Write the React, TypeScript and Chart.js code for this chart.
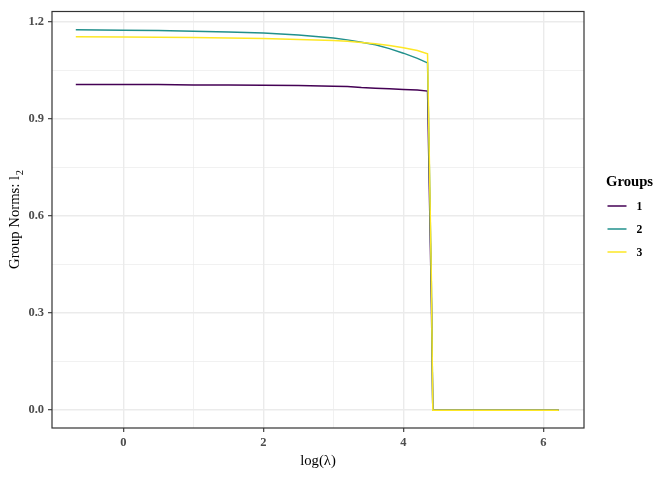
import React, { useEffect, useRef } from "react";
import { Chart, registerables } from "chart.js";

Chart.register(...registerables);

const lambda = [-0.68, 0, 0.5, 1, 1.5, 2, 2.5, 3, 3.2, 3.4, 3.6, 3.8, 4.0, 4.2, 4.345, 4.4, 4.42, 5.0, 6.22];
const group1 = [1.005, 1.005, 1.005, 1.004, 1.004, 1.003, 1.002, 1.0, 0.999, 0.996, 0.994, 0.992, 0.99, 0.988, 0.985, 0.33, 0, 0, 0];
const group2 = [1.174, 1.173, 1.172, 1.17, 1.167, 1.164, 1.158, 1.149, 1.143, 1.136, 1.128, 1.116, 1.102, 1.086, 1.072, 0.38, 0, 0, 0];
const group3 = [1.153, 1.152, 1.151, 1.15, 1.149, 1.147, 1.144, 1.141, 1.139, 1.135, 1.131, 1.126, 1.119, 1.11, 1.1, 0.4, 0, 0, 0];

const groupNames = ["1", "2", "3"];
const groupColors = ["#440154", "#21908C", "#FDE725"];

const xTicks = [0, 1, 2, 3, 4, 5, 6];
const xLabelTicks = [0, 2, 4, 6];
const yTicks = [0, 0.15, 0.3, 0.45, 0.6, 0.75, 0.9, 1.05, 1.2];
const yLabelTicks = [0, 0.3, 0.6, 0.9, 1.2];

const xTitle = "log(λ)";
const yTitleMain = "Group Norms: l";
const yTitleSub = "2";
const legendTitle = "Groups";

const SERIF = "'Liberation Serif', 'Times New Roman', serif";

const isIn = (arr: number[], v: number) => arr.some((a) => Math.abs(a - v) < 1e-6);

export default function App() {
  const ref = useRef<HTMLCanvasElement | null>(null);

  useEffect(() => {
    document.body.style.margin = "0";
    const canvas = ref.current;
    if (!canvas) return;

    const series = [group1, group2, group3];

    const decor = {
      id: "decor",
      afterDraw(chart: any) {
        const ctx = chart.ctx as CanvasRenderingContext2D;
        const a = chart.chartArea;
        ctx.save();
        // panel border
        ctx.strokeStyle = "#333333";
        ctx.lineWidth = 1.2;
        ctx.strokeRect(a.left, a.top, a.right - a.left, a.bottom - a.top);

        ctx.fillStyle = "#000000";
        // x title
        ctx.font = `14.7px ${SERIF}`;
        ctx.textAlign = "center";
        ctx.textBaseline = "middle";
        ctx.fillText(xTitle, (a.left + a.right) / 2, 461.5);

        // y title (rotated) with subscript
        ctx.save();
        ctx.translate(14, (a.top + a.bottom) / 2);
        ctx.rotate(-Math.PI / 2);
        ctx.font = `14.7px ${SERIF}`;
        const wMain = ctx.measureText(yTitleMain).width;
        ctx.font = `10.5px ${SERIF}`;
        const wSub = ctx.measureText(yTitleSub).width;
        const start = -(wMain + wSub) / 2;
        ctx.textAlign = "left";
        ctx.textBaseline = "alphabetic";
        ctx.font = `14.7px ${SERIF}`;
        ctx.fillText(yTitleMain, start, 5);
        ctx.font = `10.5px ${SERIF}`;
        ctx.fillText(yTitleSub, start + wMain + 0.5, 8.5);
        ctx.restore();

        // legend
        ctx.textAlign = "left";
        ctx.textBaseline = "middle";
        ctx.font = `bold 14.7px ${SERIF}`;
        ctx.fillText(legendTitle, 606, 182);
        const ys = [206, 229, 252];
        groupNames.forEach((n, i) => {
          ctx.strokeStyle = groupColors[i];
          ctx.lineWidth = 1.5;
          ctx.beginPath();
          ctx.moveTo(607.5, ys[i]);
          ctx.lineTo(626.5, ys[i]);
          ctx.stroke();
          ctx.font = `bold 11.7px ${SERIF}`;
          ctx.fillStyle = "#000000";
          ctx.fillText(n, 636.5, ys[i] + 0.5);
        });
        ctx.restore();
      },
    };

    const chart = new Chart(canvas, {
      type: "line",
      data: {
        datasets: series.map((s, i) => ({
          label: groupNames[i],
          data: lambda.map((x, j) => ({ x, y: s[j] })),
          borderColor: groupColors[i],
          backgroundColor: groupColors[i],
          borderWidth: 1.5,
          pointRadius: 0,
          tension: 0,
          fill: false,
          order: 3 - i,
        })),
      },
      options: {
        responsive: false,
        animation: false,
        devicePixelRatio: 1,
        layout: { padding: { top: 7, right: 88, left: 0, bottom: 0 } },
        plugins: {
          legend: { display: false },
          tooltip: { enabled: false },
          title: { display: false },
        },
        scales: {
          x: {
            type: "linear",
            min: -1.02,
            max: 6.58,
            border: { display: false },
            afterBuildTicks: (scale: any) => {
              scale.ticks = xTicks.map((v) => ({ value: v }));
            },
            afterFit: (scale: any) => {
              scale.height = 52;
            },
            grid: {
              color: "#EBEBEB",
              lineWidth: (c: any) => (isIn(xLabelTicks, c.tick.value) ? 1.4 : 0.7),
              tickColor: (c: any) => (isIn(xLabelTicks, c.tick.value) ? "#333333" : "rgba(0,0,0,0)"),
              tickWidth: 1.1,
              tickLength: 4,
              drawTicks: true,
            },
            ticks: {
              autoSkip: false,
              maxRotation: 0,
              minRotation: 0,
              padding: 3,
              color: "#4D4D4D",
              font: { family: SERIF, size: 12.5, weight: "bold" },
              callback: (v: any) => (isIn(xLabelTicks, Number(v)) ? String(Number(v)) : ""),
            },
          },
          y: {
            type: "linear",
            min: -0.055,
            max: 1.2306,
            border: { display: false },
            afterBuildTicks: (scale: any) => {
              scale.ticks = yTicks.map((v) => ({ value: v }));
            },
            afterFit: (scale: any) => {
              scale.width = 52;
            },
            grid: {
              color: "#EBEBEB",
              lineWidth: (c: any) => (isIn(yLabelTicks, c.tick.value) ? 1.4 : 0.7),
              tickColor: (c: any) => (isIn(yLabelTicks, c.tick.value) ? "#333333" : "rgba(0,0,0,0)"),
              tickWidth: 1.1,
              tickLength: 4,
              drawTicks: true,
            },
            ticks: {
              autoSkip: false,
              padding: 4,
              color: "#4D4D4D",
              font: { family: SERIF, size: 12.5, weight: "bold" },
              callback: (v: any) => (isIn(yLabelTicks, Number(v)) ? Number(v).toFixed(1) : ""),
            },
          },
        },
      },
      plugins: [decor],
    } as any);

    return () => chart.destroy();
  }, []);

  return (
    <div style={{ width: 672, height: 480 }}>
      <canvas ref={ref} width={672} height={480} style={{ display: "block", width: 672, height: 480 }} />
    </div>
  );
}
